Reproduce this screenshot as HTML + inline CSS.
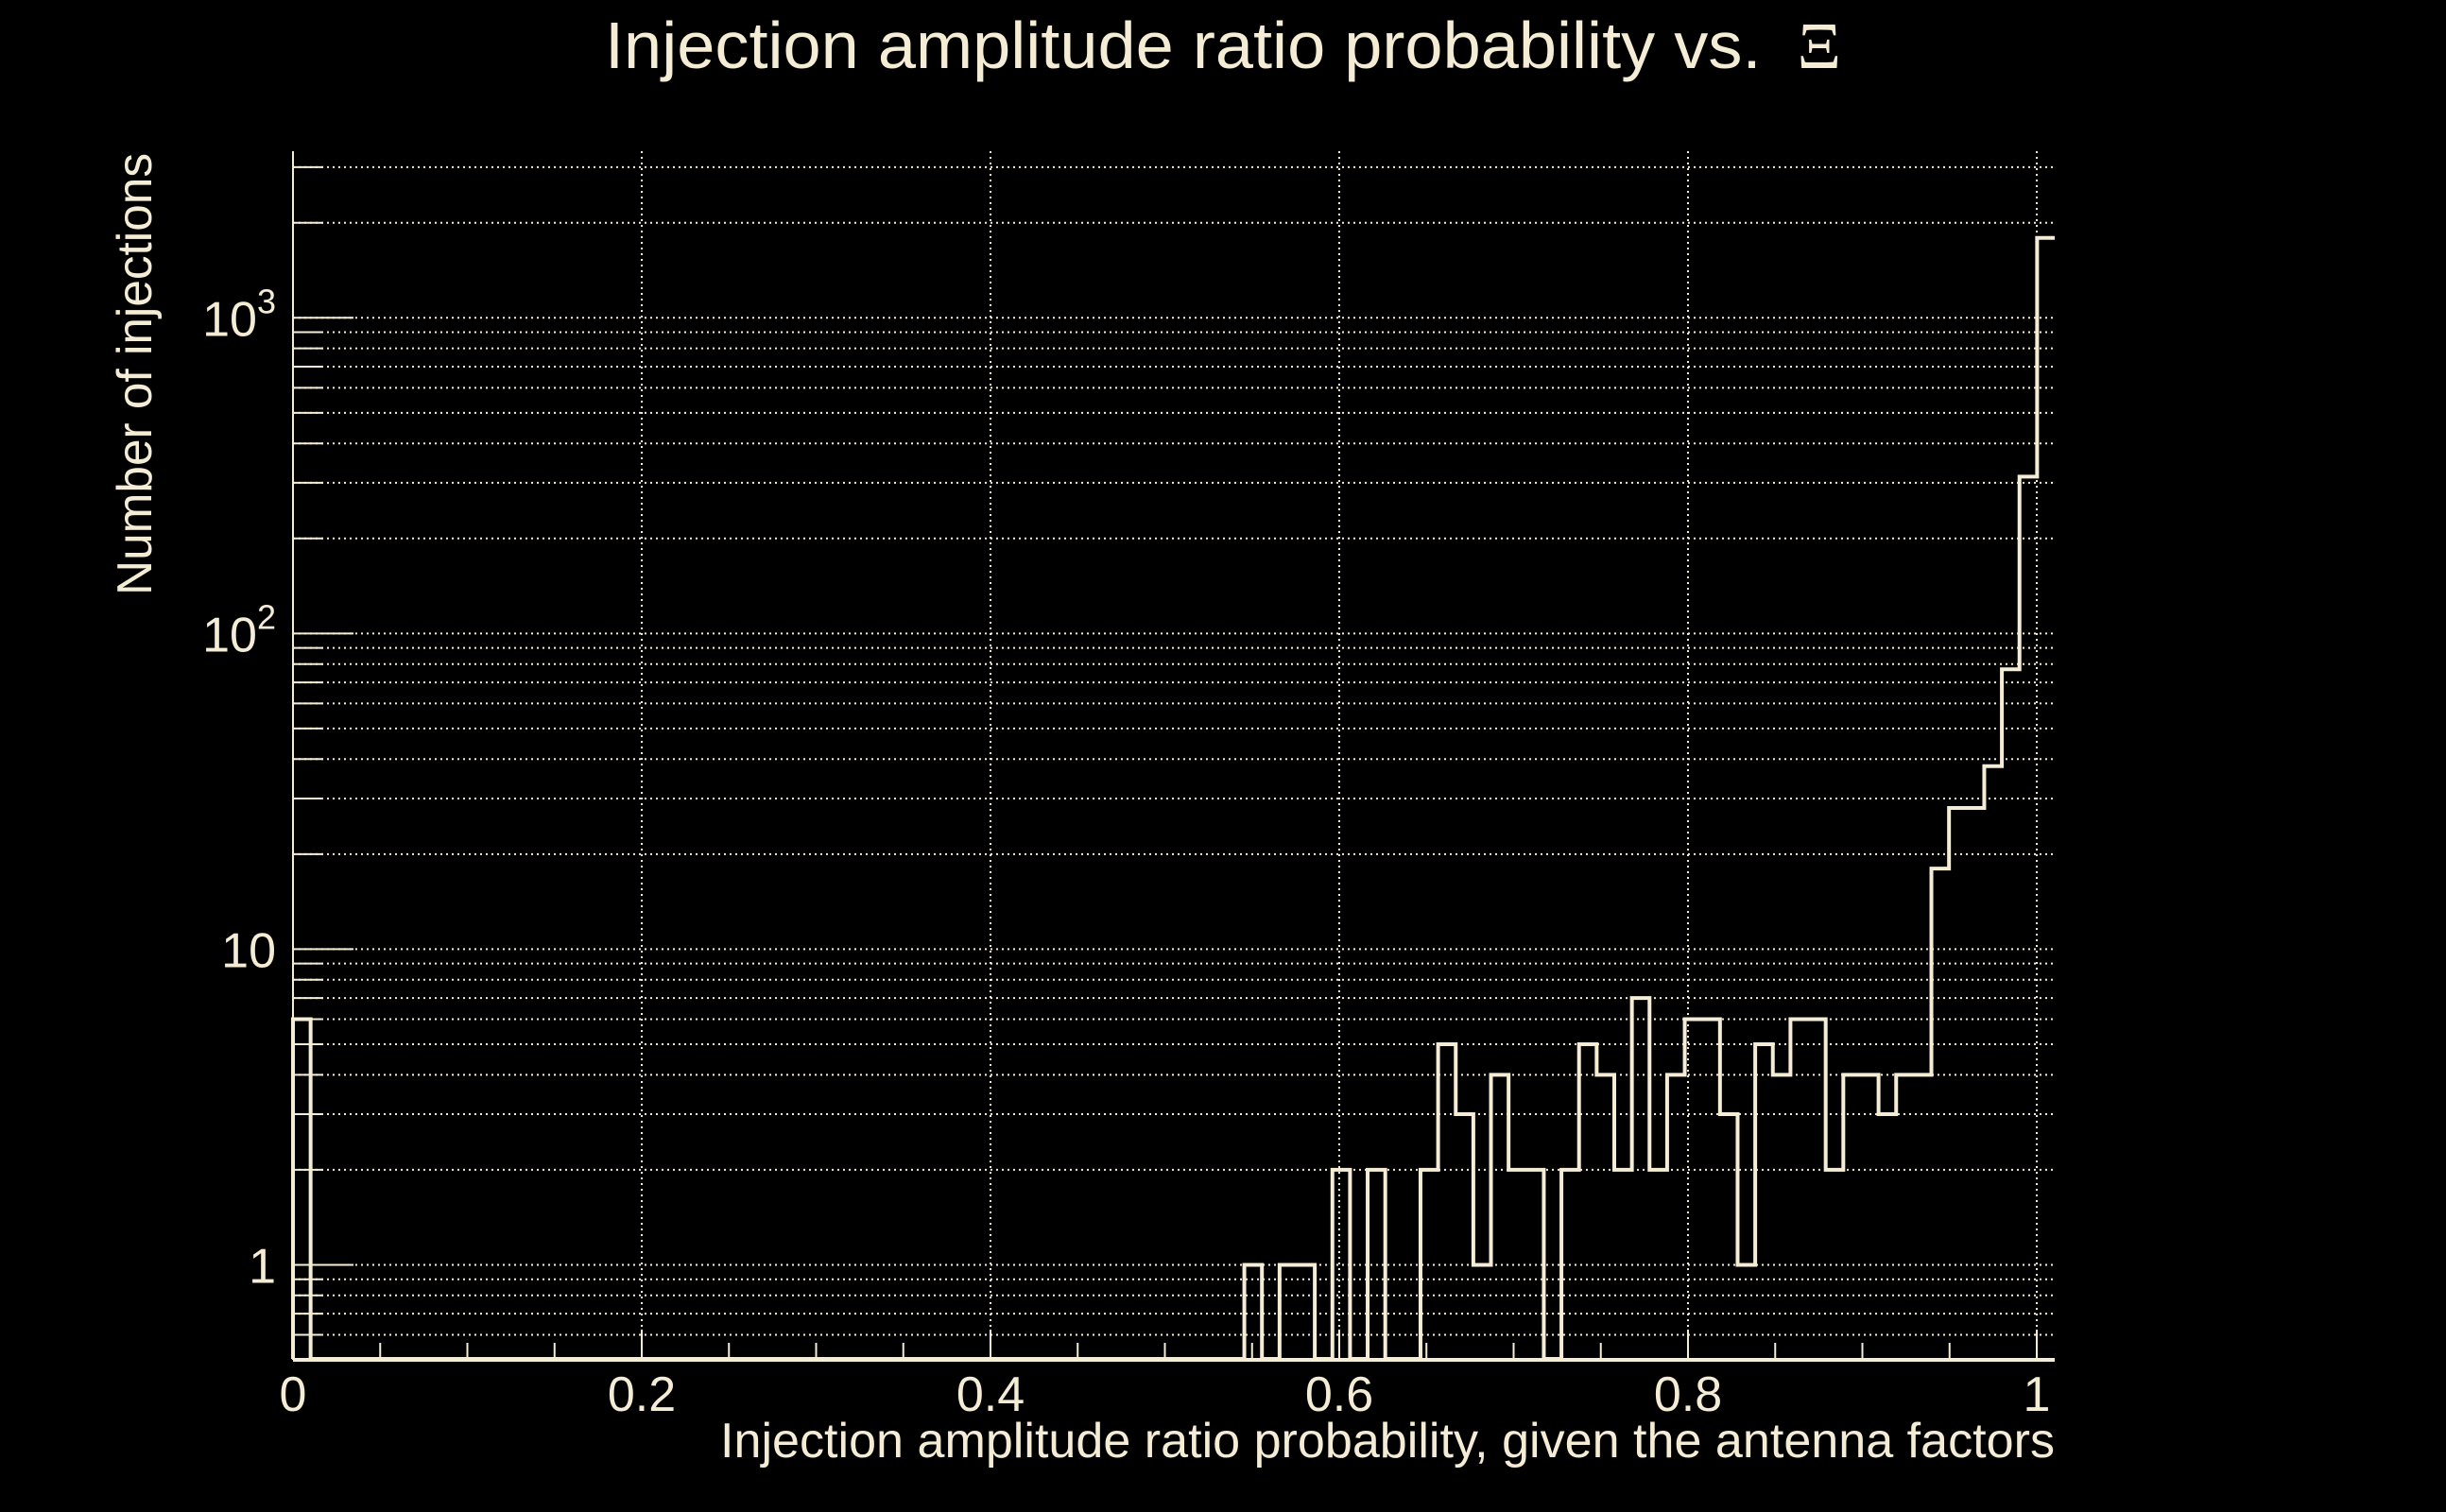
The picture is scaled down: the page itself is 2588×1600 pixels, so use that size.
<!DOCTYPE html>
<html><head><meta charset="utf-8"><style>
html,body{margin:0;padding:0;background:#000;}
svg{display:block;font-family:"Liberation Sans",sans-serif;}
</style></head><body>
<svg id="chart" width="2588" height="1600" viewBox="0 0 2588 1600">
<rect x="0" y="0" width="2588" height="1600" fill="#000"/>
<text x="640" y="72" font-size="70" fill="#f5ecd5" textLength="1308" lengthAdjust="spacingAndGlyphs">Injection amplitude ratio probability vs. <tspan font-family="Liberation Serif, serif">&#160;Ξ</tspan></text>
<g id="grid"></g>
<g id="axes"></g>
<g id="marks"></g>
<text x="2174" y="1542" font-size="52" fill="#f5ecd5" text-anchor="end" textLength="1412" lengthAdjust="spacingAndGlyphs">Injection amplitude ratio probability, given the antenna factors</text>
<text transform="translate(160,630) rotate(-90)" font-size="52" fill="#f5ecd5" textLength="468" lengthAdjust="spacingAndGlyphs">Number of injections</text>
</svg>
<script>
const binCounts = [6,0,0,0,0,0,0,0,0,0, 0,0,0,0,0,0,0,0,0,0, 0,0,0,0,0,0,0,0,0,0, 0,0,0,0,0,0,0,0,0,0, 0,0,0,0,0,0,0,0,0,0, 0,0,0,0,1,0,1,1,0,2, 0,2,0,0,2,5,3,1,4,2, 2,0,2,5,4,2,7,2,4,6, 6,3,1,5,4,6,6,2,4,4, 3,4,4,18,28,28,38,77,314,1790];
const xMin = 0, xMax = 1.0103;
const yMin = 0.5, yMax = 3370;
const xTickValues = [0,0.2,0.4,0.6,0.8,1];
const xTickLabels = ["0","0.2","0.4","0.6","0.8","1"];
const yMajorValues = [1,10,100,1000];
const yMajorLabels = ["1","10","10²","10³"];

const NS="http://www.w3.org/2000/svg", C="#f5ecd5";
const L=310,R=2174,T=160,B=1439;
function xs(v){return L+(v-xMin)/(xMax-xMin)*(R-L);}
function ys(v){return B-(Math.log10(v)-Math.log10(yMin))/(Math.log10(yMax)-Math.log10(yMin))*(B-T);}
function mk(tag,attrs,parent){const e=document.createElementNS(NS,tag);for(const k in attrs)e.setAttribute(k,attrs[k]);parent.appendChild(e);return e;}
const grid=document.getElementById('grid'),axes=document.getElementById('axes'),marks=document.getElementById('marks');

for(let d=-1;d<=3;d++){for(let m=1;m<=9;m++){const v=m*Math.pow(10,d);if(v<yMin||v>yMax)continue;const y=ys(v);
 const g=mk('line',{x1:L,x2:R,y1:y,y2:y,stroke:C,'stroke-width':2,'stroke-dasharray':'2 4'},grid);
 
 
 const t=mk('line',{x1:L,x2:L+(m===1?64:32),y1:y,y2:y,stroke:C,'stroke-width':2},axes);
 
 
}}
xTickValues.forEach(v=>{const x=xs(v);
 const g=mk('line',{x1:x,x2:x,y1:T,y2:B,stroke:C,'stroke-width':2,'stroke-dasharray':'2 4'},grid);
 
 
});
for(let i=0;i<=20;i++){const x=xs(i*0.05);
 const t=mk('line',{x1:x,x2:x,y1:B,y2:B-(i%4===0?32:18),stroke:C,'stroke-width':2},axes);
 
 
}
const ax1=mk('line',{x1:L,x2:R,y1:B,y2:B,stroke:C,'stroke-width':4},axes);


const ax2=mk('line',{x1:L,x2:L,y1:T,y2:B,stroke:C,'stroke-width':2},axes);


xTickValues.forEach((v,i)=>{const t=mk('text',{x:xs(v),y:1493,'font-size':52,fill:C,'text-anchor':'middle'},axes);t.textContent=xTickLabels[i];
 
 
});
yMajorValues.forEach((v,i)=>{const t=mk('text',{x:292,y:ys(v)+19,'font-size':52,fill:C,'text-anchor':'end'},axes);
 const lab=yMajorLabels[i];
 if(lab.length>2&&lab.startsWith('10')){t.textContent='10';const s=mk('tspan',{'font-size':36,dy:-24},t);s.textContent=lab.endsWith('³')?'3':'2';}
 else t.textContent=lab;
 
 
});
const n=binCounts.length,w=(xMax-xMin)/n;
function yc(c){return c>0?ys(c):B-1;}
let d='M'+xs(xMin)+','+(B-1);
for(let i=0;i<n;i++){const y=yc(binCounts[i]);d+=' L'+xs(xMin+i*w)+','+y+' L'+xs(xMin+(i+1)*w)+','+y;}
const p=mk('path',{d:d,fill:'none',stroke:C,'stroke-width':4,'stroke-linejoin':'miter'},marks);


</script>
</body></html>
